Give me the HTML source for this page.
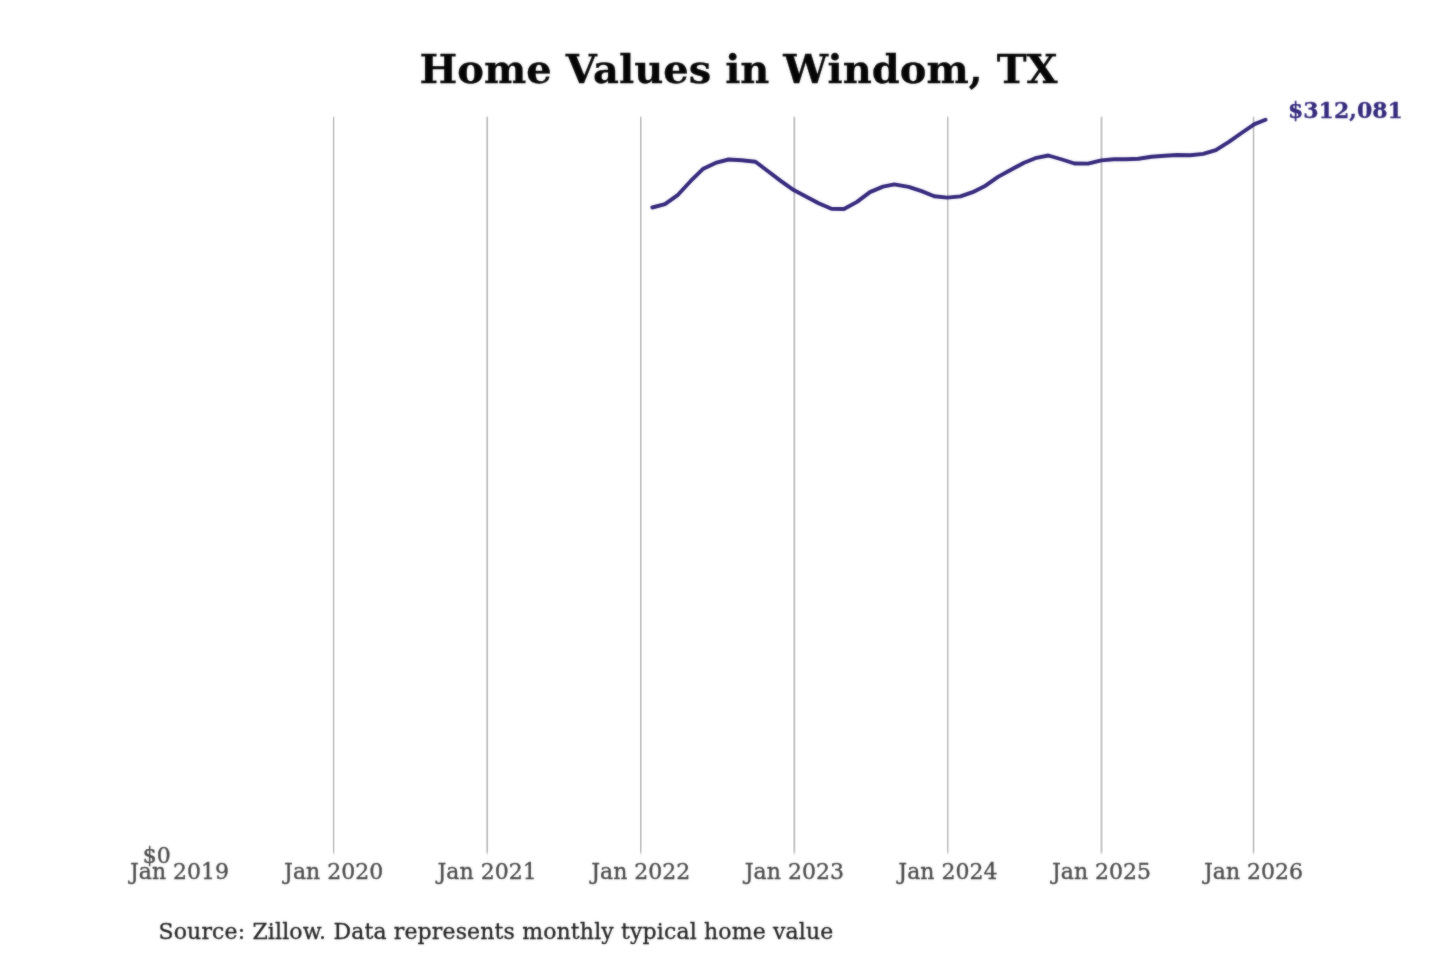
<!DOCTYPE html>
<html lang="en">
<head>
<meta charset="utf-8">
<title>Home Values in Windom, TX</title>
<style>
html,body{margin:0;padding:0;background:#fff;}
body{width:1440px;height:960px;overflow:hidden;font-family:"DejaVu Serif","Liberation Serif",serif;}
svg{display:block;position:absolute;left:0;top:0;}
svg text{font-family:"DejaVu Serif","Liberation Serif",serif;}
.grid line{stroke:#b0b0b0;stroke-width:1.4;}
.ticks text{font-size:22px;fill:#484848;stroke:#484848;stroke-width:0.35px;text-anchor:middle;}
.title{font-size:40px;font-weight:bold;fill:#050505;stroke:#050505;stroke-width:0.3px;text-anchor:middle;}
.val{font-size:22px;font-weight:bold;fill:#33297c;stroke:#33297c;stroke-width:0.3px;}
.src{font-size:22px;fill:#222;stroke:#222;stroke-width:0.3px;letter-spacing:0.143px;}
.y0{font-size:22px;fill:#484848;stroke:#484848;stroke-width:0.35px;text-anchor:end;}
.series{fill:none;stroke:#33277b;stroke-width:3.9;stroke-linejoin:round;stroke-linecap:round;}
</style>
</head>
<body>
<svg width="1440" height="960" viewBox="0 0 1440 960">
<defs><linearGradient id="gv" gradientUnits="userSpaceOnUse" x1="0" y1="115" x2="0" y2="856"><stop offset="0.00000" stop-color="#000" stop-opacity="0"/><stop offset="0.00067" stop-color="#000" stop-opacity="0.08"/><stop offset="0.00202" stop-color="#000" stop-opacity="0.35"/><stop offset="0.00337" stop-color="#000" stop-opacity="0.78"/><stop offset="0.00432" stop-color="#000" stop-opacity="1"/><stop offset="0.99325" stop-color="#000" stop-opacity="1"/><stop offset="0.99528" stop-color="#000" stop-opacity="0.75"/><stop offset="0.99663" stop-color="#000" stop-opacity="0.42"/><stop offset="0.99798" stop-color="#000" stop-opacity="0.2"/><stop offset="0.99933" stop-color="#000" stop-opacity="0.08"/><stop offset="1.00000" stop-color="#000" stop-opacity="0"/></linearGradient><filter id="soft" x="0" y="0" width="1440" height="960" filterUnits="userSpaceOnUse" color-interpolation-filters="sRGB"><feGaussianBlur in="SourceGraphic" stdDeviation="0.8" result="b"/><feComposite in="SourceGraphic" in2="b" operator="arithmetic" k1="0" k2="0.55" k3="0.45" k4="0"/></filter></defs>
<rect width="1440" height="960" fill="#ffffff"/>
<g class="grid" shape-rendering="crispEdges">
<rect x="332" y="115" width="1" height="741" fill="url(#gv)" opacity="0.039"/>
<rect x="333" y="115" width="1" height="741" fill="url(#gv)" opacity="0.231"/>
<rect x="334" y="115" width="1" height="741" fill="url(#gv)" opacity="0.098"/>
<rect x="485" y="115" width="1" height="741" fill="url(#gv)" opacity="0.027"/>
<rect x="486" y="115" width="1" height="741" fill="url(#gv)" opacity="0.157"/>
<rect x="487" y="115" width="1" height="741" fill="url(#gv)" opacity="0.231"/>
<rect x="488" y="115" width="1" height="741" fill="url(#gv)" opacity="0.039"/>
<rect x="639" y="115" width="1" height="741" fill="url(#gv)" opacity="0.020"/>
<rect x="640" y="115" width="1" height="741" fill="url(#gv)" opacity="0.231"/>
<rect x="641" y="115" width="1" height="741" fill="url(#gv)" opacity="0.137"/>
<rect x="793" y="115" width="1" height="741" fill="url(#gv)" opacity="0.145"/>
<rect x="794" y="115" width="1" height="741" fill="url(#gv)" opacity="0.216"/>
<rect x="795" y="115" width="1" height="741" fill="url(#gv)" opacity="0.078"/>
<rect x="946" y="115" width="1" height="741" fill="url(#gv)" opacity="0.020"/>
<rect x="947" y="115" width="1" height="741" fill="url(#gv)" opacity="0.216"/>
<rect x="948" y="115" width="1" height="741" fill="url(#gv)" opacity="0.118"/>
<rect x="949" y="115" width="1" height="741" fill="url(#gv)" opacity="0.027"/>
<rect x="1100" y="115" width="1" height="741" fill="url(#gv)" opacity="0.118"/>
<rect x="1101" y="115" width="1" height="741" fill="url(#gv)" opacity="0.204"/>
<rect x="1102" y="115" width="1" height="741" fill="url(#gv)" opacity="0.118"/>
<rect x="1252" y="115" width="1" height="741" fill="url(#gv)" opacity="0.078"/>
<rect x="1253" y="115" width="1" height="741" fill="url(#gv)" opacity="0.231"/>
<rect x="1254" y="115" width="1" height="741" fill="url(#gv)" opacity="0.098"/>
</g>
<g filter="url(#soft)">
<text class="title" x="738.5" y="83">Home Values in Windom, TX</text>
<path class="series" d="M652.30 207.50C652.30 207.50 665.00 204.10 665.00 204.10C665.00 204.10 678.00 194.80 678.00 194.80C678.00 194.80 690.50 181.20 690.50 181.20C690.50 181.20 702.80 169.10 702.80 169.10C702.80 169.10 715.50 162.90 715.50 162.90C715.50 162.90 728.50 159.50 728.50 159.50C728.50 159.50 741.70 160.20 741.70 160.20C741.70 160.20 755.50 161.75 755.50 161.75C755.50 161.75 768.00 171.20 768.00 171.20C768.00 171.20 780.70 180.90 780.70 180.90C780.70 180.90 793.70 190.10 793.70 190.10C793.70 190.10 806.80 196.90 806.80 196.90C806.80 196.90 818.60 203.30 818.60 203.30C818.60 203.30 831.40 208.75 831.40 208.75C831.40 208.75 844.00 209.00 844.00 209.00C844.00 209.00 857.00 201.90 857.00 201.90C857.00 201.90 869.90 192.10 869.90 192.10C869.90 192.10 883.00 186.65 883.00 186.65C883.00 186.65 894.30 184.40 894.30 184.40C894.30 184.40 908.60 186.90 908.60 186.90C908.60 186.90 921.60 191.15 921.60 191.15C921.60 191.15 934.20 196.30 934.20 196.30C934.20 196.30 947.30 197.65 947.30 197.65C947.30 197.65 960.50 196.40 960.50 196.40C960.50 196.40 972.70 192.20 972.70 192.20C972.70 192.20 984.50 186.30 984.50 186.30C984.50 186.30 998.00 176.90 998.00 176.90C998.00 176.90 1011.00 169.80 1011.00 169.80C1011.00 169.80 1024.00 162.70 1024.00 162.70C1024.00 162.70 1036.50 157.80 1036.50 157.80C1036.50 157.80 1048.30 155.50 1048.30 155.50C1048.30 155.50 1062.00 159.50 1062.00 159.50C1062.00 159.50 1074.50 163.50 1074.50 163.50C1074.50 163.50 1088.00 163.60 1088.00 163.60C1088.00 163.60 1101.30 160.40 1101.30 160.40C1101.30 160.40 1114.10 159.20 1114.10 159.20C1114.10 159.20 1125.90 159.20 1125.90 159.20C1125.90 159.20 1138.50 158.80 1138.50 158.80C1138.50 158.80 1151.50 156.70 1151.50 156.70C1151.50 156.70 1164.60 155.80 1164.60 155.80C1164.60 155.80 1177.20 155.00 1177.20 155.00C1177.20 155.00 1190.20 155.20 1190.20 155.20C1190.20 155.20 1203.20 153.90 1203.20 153.90C1203.20 153.90 1215.80 150.15 1215.80 150.15C1215.80 150.15 1228.90 141.90 1228.90 141.90C1228.90 141.90 1241.50 133.00 1241.50 133.00C1241.50 133.00 1254.50 124.10 1254.50 124.10C1254.50 124.10 1265.50 119.80 1265.50 119.80"/>
<text class="val" x="1288" y="117.6">$312,081</text>
<text class="y0" x="170.7" y="862.6">$0</text>
<g class="ticks">
<text x="179.5" y="878.6">Jan 2019</text>
<text x="333.65" y="878.6">Jan 2020</text>
<text x="487.1" y="878.6">Jan 2021</text>
<text x="640.8" y="878.6">Jan 2022</text>
<text x="794.35" y="878.6">Jan 2023</text>
<text x="947.9" y="878.6">Jan 2024</text>
<text x="1101.5" y="878.6">Jan 2025</text>
<text x="1253.55" y="878.6">Jan 2026</text>
</g>
<text class="src" x="158.5" y="938.8">Source: Zillow. Data represents monthly typical home value</text>
</g>
</svg>
</body>
</html>
